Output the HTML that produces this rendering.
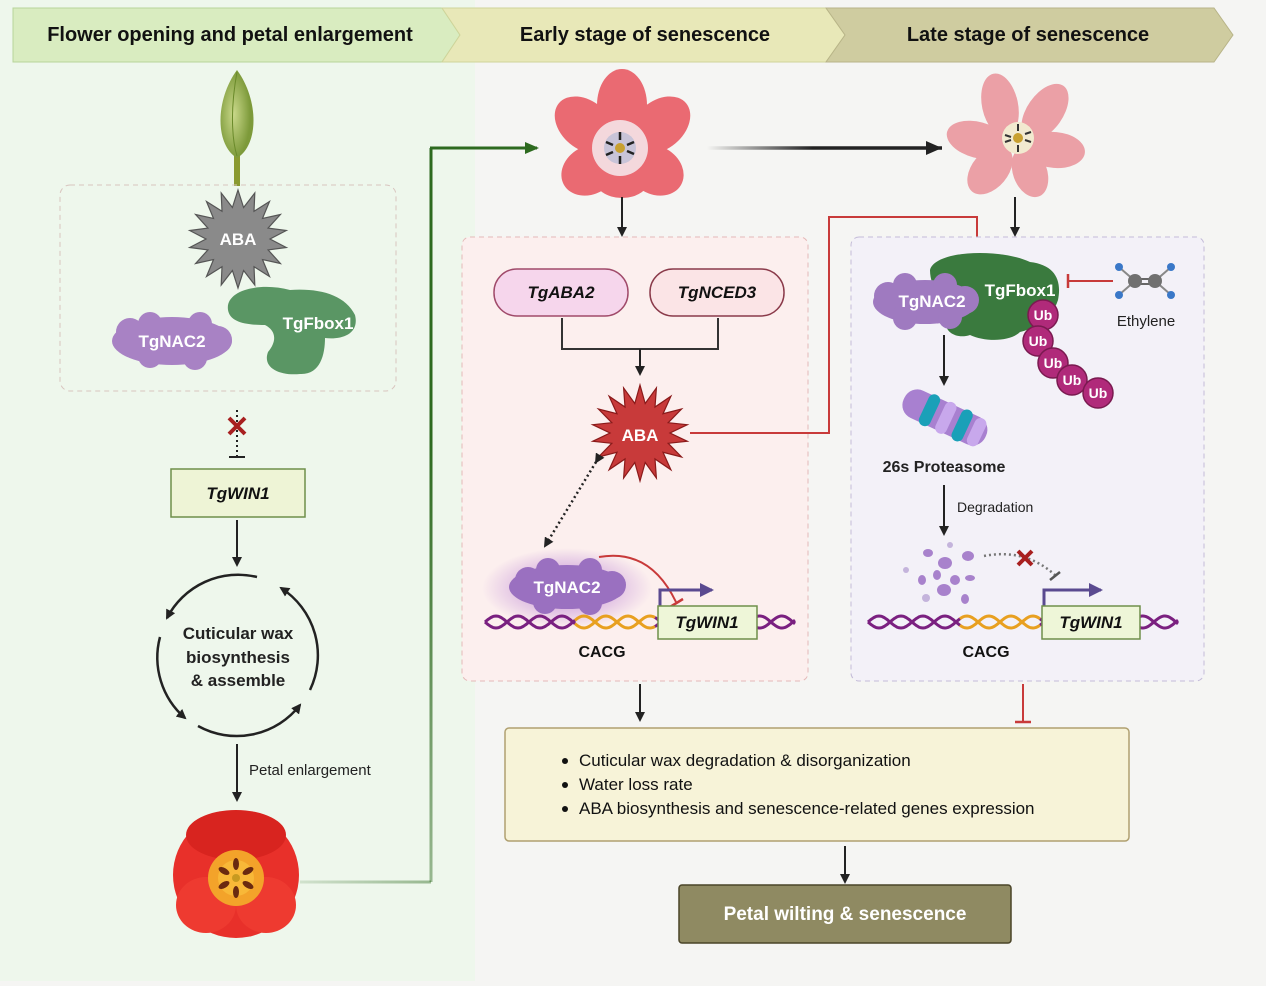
<!DOCTYPE html>
<html><head><meta charset="utf-8"><style>
html,body{margin:0;padding:0;}
body{width:1266px;height:981px;overflow:hidden;background:#f5f5f3;font-family:"Liberation Sans",sans-serif;}
svg text{font-family:"Liberation Sans",sans-serif;}
</style></head><body>
<svg width="1266" height="981" viewBox="0 0 1266 981" xmlns="http://www.w3.org/2000/svg">
<defs>
<marker id="ah" markerWidth="10" markerHeight="10" refX="8" refY="5" orient="auto" markerUnits="userSpaceOnUse"><path d="M0,0 L10,5 L0,10 Z" fill="#222"/></marker>
<marker id="ahg" markerWidth="14" markerHeight="12" refX="12" refY="6" orient="auto" markerUnits="userSpaceOnUse"><path d="M0,0 L14,6 L0,12 Z" fill="#2d6a1f"/></marker>
<marker id="ahb" markerWidth="16" markerHeight="14" refX="14" refY="7" orient="auto" markerUnits="userSpaceOnUse"><path d="M0,0 L16,7 L0,14 Z" fill="#222"/></marker>
<marker id="ahp" markerWidth="14" markerHeight="14" refX="12" refY="7" orient="auto" markerUnits="userSpaceOnUse"><path d="M0,0 L14,7 L0,14 Z" fill="#5a4a90"/></marker>
<linearGradient id="ga" gradientUnits="userSpaceOnUse" x1="707" y1="0" x2="942" y2="0"><stop offset="0" stop-color="#222" stop-opacity="0"/><stop offset="0.45" stop-color="#222"/></linearGradient>
<linearGradient id="gl" gradientUnits="userSpaceOnUse" x1="300" y1="0" x2="431" y2="0"><stop offset="0" stop-color="#2d6a1f" stop-opacity="0.15"/><stop offset="1" stop-color="#2d6a1f" stop-opacity="0.45"/></linearGradient>
<linearGradient id="gv" gradientUnits="userSpaceOnUse" x1="0" y1="882" x2="0" y2="148"><stop offset="0" stop-color="#2d6a1f" stop-opacity="0.45"/><stop offset="0.6" stop-color="#2d6a1f"/></linearGradient>
<radialGradient id="glow"><stop offset="0.4" stop-color="#b070d0" stop-opacity="0.5"/><stop offset="1" stop-color="#b070d0" stop-opacity="0"/></radialGradient>
<radialGradient id="bud" cx="0.4" cy="0.5"><stop offset="0" stop-color="#c9d88a"/><stop offset="1" stop-color="#7d9a3a"/></radialGradient>
</defs>
<rect x="0" y="0" width="475" height="981" fill="#eef7ec"/>
<!-- header -->
<polygon points="13,8 442,8 460,35 442,62 13,62" fill="#d9ecc0" stroke="#b8d49a"/>
<polygon points="442,8 826,8 845,35 826,62 442,62 460,35" fill="#e8e8b8" stroke="#cfd49a"/>
<polygon points="826,8 1214,8 1233,35 1214,62 826,62 845,35" fill="#cfcca0" stroke="#b8b488"/>
<text x="230" y="41" text-anchor="middle" font-size="20" font-weight="bold" fill="#111">Flower opening and petal enlargement</text>
<text x="645" y="41" text-anchor="middle" font-size="20" font-weight="bold" fill="#111">Early stage of senescence</text>
<text x="1028" y="41" text-anchor="middle" font-size="20" font-weight="bold" fill="#111">Late stage of senescence</text>

<!-- bud -->
<rect x="234" y="150" width="6" height="36" fill="#8a9a30"/>
<path d="M237,70 C215,100 215,145 237,158 C259,145 259,100 237,70 Z" fill="url(#bud)"/>
<path d="M237,72 C230,110 232,140 237,156" stroke="#6a8a2a" fill="none"/>

<!-- left dashed box -->
<rect x="60" y="185" width="336" height="206" rx="10" fill="none" stroke="#d8c4be" stroke-dasharray="5,4"/>
<polygon id="s1" fill="#8a8a8a" stroke="#555" stroke-width="1.2"/>
<text x="238" y="245" text-anchor="middle" font-size="17" font-weight="bold" fill="#fff">ABA</text>
<g fill="#a882c4">
<ellipse cx="172" cy="341" rx="60" ry="24"/><circle cx="130" cy="332" r="14"/><circle cx="150" cy="324" r="12"/><circle cx="200" cy="324" r="12"/><circle cx="218" cy="340" r="14"/><circle cx="150" cy="356" r="12"/><circle cx="195" cy="358" r="12"/>
</g>
<text x="172" y="347" text-anchor="middle" font-size="17" font-weight="bold" fill="#fff">TgNAC2</text>
<path d="M228,310 C225,290 260,282 290,290 C320,288 345,295 355,315 C360,335 340,340 325,338 C325,355 320,375 300,374 C280,376 262,368 268,352 C278,340 275,330 265,325 C245,325 230,322 228,310 Z" fill="#5a9664"/>
<text x="318" y="329" text-anchor="middle" font-size="17" font-weight="bold" fill="#fff">TgFbox1</text>

<line x1="237" y1="410" x2="237" y2="456" stroke="#222" stroke-width="2" stroke-dasharray="2,3"/>
<line x1="229" y1="457" x2="245" y2="457" stroke="#222" stroke-width="2"/>
<path d="M229,418 L245,434 M245,418 L229,434" stroke="#a82020" stroke-width="4"/>
<rect x="171" y="469" width="134" height="48" fill="#eef4d6" stroke="#6f8f4a" stroke-width="1.5"/>
<text x="238" y="499" text-anchor="middle" font-size="17" font-weight="bold" font-style="italic" fill="#111">TgWIN1</text>
<line x1="237" y1="520" x2="237" y2="565" stroke="#222" stroke-width="2" marker-end="url(#ah)"/>

<!-- cycle -->
<g fill="none" stroke="#222" stroke-width="2.5" marker-end="url(#ah)">
<path d="M257,577 A80,80 0 0 0 167,618"/>
<path d="M160,637 A80,80 0 0 0 185,718"/>
<path d="M198,726 A80,80 0 0 0 300,705"/>
<path d="M310,690 A80,80 0 0 0 281,588"/>
</g>
<text x="238" y="639" text-anchor="middle" font-size="17" font-weight="bold" fill="#222">Cuticular wax</text>
<text x="238" y="663" text-anchor="middle" font-size="17" font-weight="bold" fill="#222">biosynthesis</text>
<text x="238" y="686" text-anchor="middle" font-size="17" font-weight="bold" fill="#222">&amp; assemble</text>
<line x1="237" y1="744" x2="237" y2="800" stroke="#222" stroke-width="2" marker-end="url(#ah)"/>
<text x="249" y="775" font-size="15" fill="#222">Petal enlargement</text>

<!-- red tulip -->
<g>
<circle cx="236" cy="875" r="63" fill="#e8302a"/>
<ellipse cx="236" cy="835" rx="50" ry="25" fill="#d8241f"/>
<ellipse cx="206" cy="905" rx="30" ry="28" fill="#ee3a30"/>
<ellipse cx="266" cy="905" rx="30" ry="28" fill="#ee3a30"/>
<circle cx="236" cy="878" r="28" fill="#f3a32a"/>
<circle cx="236" cy="878" r="18" fill="#f8b838"/>
<g fill="#6a2a10"><ellipse cx="236" cy="864" rx="3" ry="6"/><ellipse cx="236" cy="892" rx="3" ry="6"/><ellipse cx="224" cy="871" rx="3" ry="6" transform="rotate(-60 224 871)"/><ellipse cx="248" cy="871" rx="3" ry="6" transform="rotate(60 248 871)"/><ellipse cx="224" cy="885" rx="3" ry="6" transform="rotate(60 224 885)"/><ellipse cx="248" cy="885" rx="3" ry="6" transform="rotate(-60 248 885)"/></g>
<circle cx="236" cy="878" r="4" fill="#c89a20"/>
</g>

<!-- green long connector -->
<path d="M300,882 L431,882" stroke="url(#gl)" stroke-width="3" fill="none"/>
<path d="M431,882 L431,148" stroke="url(#gv)" stroke-width="3" fill="none"/>
<path d="M430,148 L537,148" stroke="#2d6a1f" stroke-width="3" fill="none" marker-end="url(#ahg)"/>

<!-- pink flower -->
<g>
<g fill="#ea6a72">
<ellipse cx="622" cy="105" rx="25" ry="36"/>
<ellipse cx="585" cy="125" rx="24" ry="34" transform="rotate(-50 585 125)"/>
<ellipse cx="660" cy="125" rx="24" ry="34" transform="rotate(50 660 125)"/>
<ellipse cx="590" cy="170" rx="24" ry="30" transform="rotate(-120 590 170)"/>
<ellipse cx="655" cy="170" rx="24" ry="30" transform="rotate(120 655 170)"/>
<ellipse cx="622" cy="178" rx="28" ry="20"/>
</g>
<circle cx="620" cy="148" r="28" fill="#f4d8dc"/>
<circle cx="620" cy="148" r="16" fill="#c8c4d8"/>
<circle cx="620" cy="148" r="5" fill="#c8a030"/>
<g stroke="#222" stroke-width="2.5"><path d="M620,132 v8 M620,156 v8 M606,142 l7,3 M627,151 l7,3 M606,155 l7,-3 M627,145 l7,-3"/></g>
</g>
<line x1="707" y1="148" x2="942" y2="148" stroke="url(#ga)" stroke-width="3.5"/>
<path d="M926,141 L942,148 L926,155 Z" fill="#222"/>
<!-- pale flower -->
<g fill="#eba0a6">
<ellipse cx="1000" cy="105" rx="18" ry="32" transform="rotate(-12 1000 105)"/>
<ellipse cx="1045" cy="112" rx="18" ry="32" transform="rotate(35 1045 112)"/>
<ellipse cx="978" cy="140" rx="18" ry="32" transform="rotate(-75 978 140)"/>
<ellipse cx="1055" cy="150" rx="18" ry="30" transform="rotate(95 1055 150)"/>
<ellipse cx="990" cy="170" rx="18" ry="28" transform="rotate(-140 990 170)"/>
<ellipse cx="1030" cy="172" rx="17" ry="26" transform="rotate(160 1030 172)"/>
</g>
<circle cx="1018" cy="138" r="16" fill="#f2ead0"/>
<circle cx="1018" cy="138" r="5" fill="#c8a030"/>
<g stroke="#333" stroke-width="2"><path d="M1018,124 v7 M1018,145 v7 M1005,135 l6,2 M1025,140 l6,2 M1005,142 l6,-2 M1025,134 l6,-2"/></g>
<line x1="622" y1="197" x2="622" y2="235" stroke="#222" stroke-width="2" marker-end="url(#ah)"/>
<line x1="1015" y1="197" x2="1015" y2="235" stroke="#222" stroke-width="2" marker-end="url(#ah)"/>

<!-- middle panel -->
<rect x="462" y="237" width="346" height="444" rx="8" fill="#fcefee" stroke="#e4b8b8" stroke-dasharray="5,4"/>
<rect x="494" y="269" width="134" height="47" rx="23" fill="#f6d6ec" stroke="#a04a6a" stroke-width="1.5"/>
<text x="561" y="298" text-anchor="middle" font-size="17" font-weight="bold" font-style="italic" fill="#111">TgABA2</text>
<rect x="650" y="269" width="134" height="47" rx="23" fill="#fbe4e6" stroke="#8a3a4a" stroke-width="1.5"/>
<text x="717" y="298" text-anchor="middle" font-size="17" font-weight="bold" font-style="italic" fill="#111">TgNCED3</text>
<path d="M562,318 V349 H718 V318" stroke="#333" stroke-width="2" fill="none"/>
<line x1="640" y1="349" x2="640" y2="374" stroke="#222" stroke-width="2" marker-end="url(#ah)"/>
<polygon id="s2" fill="#c83a3a" stroke="#8a1a1a" stroke-width="1.2"/>
<text x="640" y="441" text-anchor="middle" font-size="17" font-weight="bold" fill="#fff">ABA</text>
<path d="M690,433 H829 V217 H977 V245" stroke="#c83a3a" stroke-width="2" fill="none"/>
<line x1="969" y1="246" x2="985" y2="246" stroke="#c83a3a" stroke-width="2.5"/>
<line x1="596" y1="462" x2="545" y2="546" stroke="#222" stroke-width="2.5" stroke-dasharray="2,3" marker-end="url(#ah)" marker-start="url(#ah)"/>
<ellipse cx="567" cy="588" rx="85" ry="40" fill="url(#glow)"/>
<g fill="#9a70c0">
<ellipse cx="567" cy="587" rx="58" ry="22"/><circle cx="528" cy="580" r="13"/><circle cx="548" cy="570" r="12"/><circle cx="590" cy="570" r="12"/><circle cx="612" cy="585" r="14"/><circle cx="545" cy="602" r="12"/><circle cx="590" cy="603" r="12"/>
</g>
<text x="567" y="593" text-anchor="middle" font-size="17" font-weight="bold" fill="#fff">TgNAC2</text>
<path d="M599,557 Q650,548 676,602" stroke="#c83a3a" stroke-width="2" fill="none"/>
<line x1="670" y1="607" x2="683" y2="599" stroke="#c83a3a" stroke-width="2.5"/>
<path d="M660,606 V590 H712" stroke="#5a4a90" stroke-width="3" fill="none" marker-end="url(#ahp)"/>
<g id="dna1"></g>
<rect x="658" y="606" width="99" height="33" fill="#eef6d8" stroke="#6f8f4a" stroke-width="1.5"/>
<text x="707" y="628" text-anchor="middle" font-size="17" font-weight="bold" font-style="italic" fill="#111">TgWIN1</text>
<text x="602" y="657" text-anchor="middle" font-size="16" font-weight="bold" fill="#111">CACG</text>

<!-- right panel -->
<rect x="851" y="237" width="353" height="444" rx="8" fill="#f3f1f8" stroke="#c4bcd8" stroke-dasharray="5,4"/>
<path d="M930,270 C935,250 1000,248 1030,262 C1055,265 1062,280 1058,300 C1052,320 1030,330 1020,332 C1010,342 985,342 970,335 C955,340 940,330 948,315 C945,300 930,290 930,270 Z" fill="#3a7a3e"/>
<g fill="#9f7ac0">
<ellipse cx="925" cy="302" rx="52" ry="22"/><circle cx="888" cy="296" r="14"/><circle cx="905" cy="285" r="12"/><circle cx="945" cy="285" r="12"/><circle cx="965" cy="300" r="14"/><circle cx="905" cy="318" r="12"/><circle cx="950" cy="317" r="12"/>
</g>
<text x="932" y="307" text-anchor="middle" font-size="17" font-weight="bold" fill="#fff">TgNAC2</text>
<text x="1020" y="296" text-anchor="middle" font-size="17" font-weight="bold" fill="#fff">TgFbox1</text>
<g fill="#b02a7a" stroke="#7a1a50" stroke-width="1.5">
<circle cx="1043" cy="315" r="15"/><circle cx="1038" cy="341" r="15"/><circle cx="1053" cy="363" r="15"/><circle cx="1072" cy="380" r="15"/><circle cx="1098" cy="393" r="15"/>
</g>
<g font-size="14" font-weight="bold" fill="#fff" text-anchor="middle">
<text x="1043" y="320">Ub</text><text x="1038" y="346">Ub</text><text x="1053" y="368">Ub</text><text x="1072" y="385">Ub</text><text x="1098" y="398">Ub</text>
</g>
<line x1="1113" y1="281" x2="1068" y2="281" stroke="#c83a3a" stroke-width="2"/>
<line x1="1068" y1="274" x2="1068" y2="288" stroke="#c83a3a" stroke-width="2.5"/>
<g>
<path d="M1120,268 L1135,281 L1120,294 M1170,268 L1155,281 L1170,294" stroke="#888" stroke-width="2" fill="none"/>
<line x1="1135" y1="279" x2="1155" y2="279" stroke="#666" stroke-width="2"/><line x1="1135" y1="284" x2="1155" y2="284" stroke="#666" stroke-width="2"/>
<circle cx="1135" cy="281" r="7" fill="#707070"/><circle cx="1155" cy="281" r="7" fill="#707070"/>
<g fill="#3a78c8"><circle cx="1119" cy="267" r="4"/><circle cx="1171" cy="267" r="4"/><circle cx="1119" cy="295" r="4"/><circle cx="1171" cy="295" r="4"/></g>
</g>
<text x="1146" y="326" text-anchor="middle" font-size="15" fill="#222">Ethylene</text>
<line x1="944" y1="335" x2="944" y2="384" stroke="#222" stroke-width="2" marker-end="url(#ah)"/>
<g transform="rotate(25 944 417)">
<rect x="900" y="402" width="90" height="30" rx="14" fill="#a880d0"/>
<rect x="922" y="400" width="12" height="34" rx="6" fill="#1aa0b8"/>
<rect x="940" y="400" width="12" height="34" rx="6" fill="#c8a8ec"/>
<rect x="958" y="400" width="12" height="34" rx="6" fill="#1aa0b8"/>
<rect x="974" y="402" width="12" height="30" rx="6" fill="#c8a8ec"/>
</g>
<text x="944" y="472" text-anchor="middle" font-size="16" font-weight="bold" fill="#222">26s Proteasome</text>
<line x1="944" y1="485" x2="944" y2="534" stroke="#222" stroke-width="2" marker-end="url(#ah)"/>
<text x="957" y="512" font-size="14" fill="#222">Degradation</text>
<g fill="#a882cc">
<ellipse cx="945" cy="563" rx="7" ry="6"/><ellipse cx="928" cy="553" rx="5" ry="4"/><ellipse cx="968" cy="556" rx="6" ry="5"/>
<ellipse cx="922" cy="580" rx="4" ry="5"/><ellipse cx="937" cy="575" rx="4" ry="5"/><ellipse cx="955" cy="580" rx="5" ry="5"/>
<ellipse cx="970" cy="578" rx="5" ry="3"/><ellipse cx="944" cy="590" rx="7" ry="6"/><ellipse cx="965" cy="599" rx="4" ry="5"/>
<ellipse cx="926" cy="598" rx="4" ry="4" fill="#c4b4dc"/><ellipse cx="906" cy="570" rx="3" ry="3" fill="#c4b4dc"/><ellipse cx="950" cy="545" rx="3" ry="3" fill="#c4b4dc"/>
</g>
<path d="M984,556 Q1025,548 1055,575" stroke="#777" stroke-width="2.5" stroke-dasharray="2,3" fill="none"/>
<line x1="1050" y1="580" x2="1060" y2="572" stroke="#555" stroke-width="2.5"/>
<path d="M1018,551 L1032,565 M1032,551 L1018,565" stroke="#a82020" stroke-width="4"/>
<path d="M1044,606 V590 H1101" stroke="#5a4a90" stroke-width="3" fill="none" marker-end="url(#ahp)"/>
<g id="dna2"></g>
<rect x="1042" y="606" width="98" height="33" fill="#eef6d8" stroke="#6f8f4a" stroke-width="1.5"/>
<text x="1091" y="628" text-anchor="middle" font-size="17" font-weight="bold" font-style="italic" fill="#111">TgWIN1</text>
<text x="986" y="657" text-anchor="middle" font-size="16" font-weight="bold" fill="#111">CACG</text>

<!-- bottom -->
<line x1="640" y1="684" x2="640" y2="720" stroke="#222" stroke-width="2" marker-end="url(#ah)"/>
<line x1="1023" y1="684" x2="1023" y2="721" stroke="#c83a3a" stroke-width="2"/>
<line x1="1015" y1="722" x2="1031" y2="722" stroke="#c83a3a" stroke-width="2.5"/>
<rect x="505" y="728" width="624" height="113" rx="4" fill="#f7f3d8" stroke="#b0a070" stroke-width="1.5"/>
<g font-size="17" fill="#111">
<circle cx="565" cy="761" r="3"/><text x="579" y="766">Cuticular wax degradation &amp; disorganization</text>
<circle cx="565" cy="785" r="3"/><text x="579" y="790">Water loss rate</text>
<circle cx="565" cy="809" r="3"/><text x="579" y="814">ABA biosynthesis and senescence-related genes expression</text>
</g>
<line x1="845" y1="846" x2="845" y2="882" stroke="#222" stroke-width="2" marker-end="url(#ah)"/>
<rect x="679" y="885" width="332" height="58" rx="3" fill="#8f8a62" stroke="#4a4428" stroke-width="1.5"/>
<text x="845" y="920" text-anchor="middle" font-size="19" font-weight="bold" fill="#fff">Petal wilting &amp; senescence</text>
</svg>
<script>
function star(id,cx,cy,ro,ri,n){var p=[];for(var i=0;i<2*n;i++){var r=i%2?ri:ro,a=Math.PI*i/n-Math.PI/2;p.push((cx+r*Math.cos(a)).toFixed(1)+','+(cy+r*Math.sin(a)).toFixed(1));}document.getElementById(id).setAttribute('points',p.join(' '));}
star('s1',238,239,49,32,18);star('s2',640,433,48,30,18);
function dna(id,x0,x1,o0,o1,y){var ns='http://www.w3.org/2000/svg',g=document.getElementById(id);
function seg(a,b,col,ph){var d='M'+a+','+(y+6*Math.sin((a-x0)/7+ph));for(var x=a+1;x<=b;x++){d+=' L'+x+','+(y+6*Math.sin((x-x0)/7+ph)).toFixed(1);}var p=document.createElementNS(ns,'path');p.setAttribute('d',d);p.setAttribute('stroke',col);p.setAttribute('stroke-width','3');p.setAttribute('fill','none');g.appendChild(p);}
[0,Math.PI].forEach(function(ph){seg(x0,o0,'#7a2080',ph);seg(o0,o1,'#e8a020',ph);seg(o1,x1,'#7a2080',ph);});}
dna('dna1',485,795,575,655,622);dna('dna2',868,1178,960,1040,622);
</script>
</body></html>
